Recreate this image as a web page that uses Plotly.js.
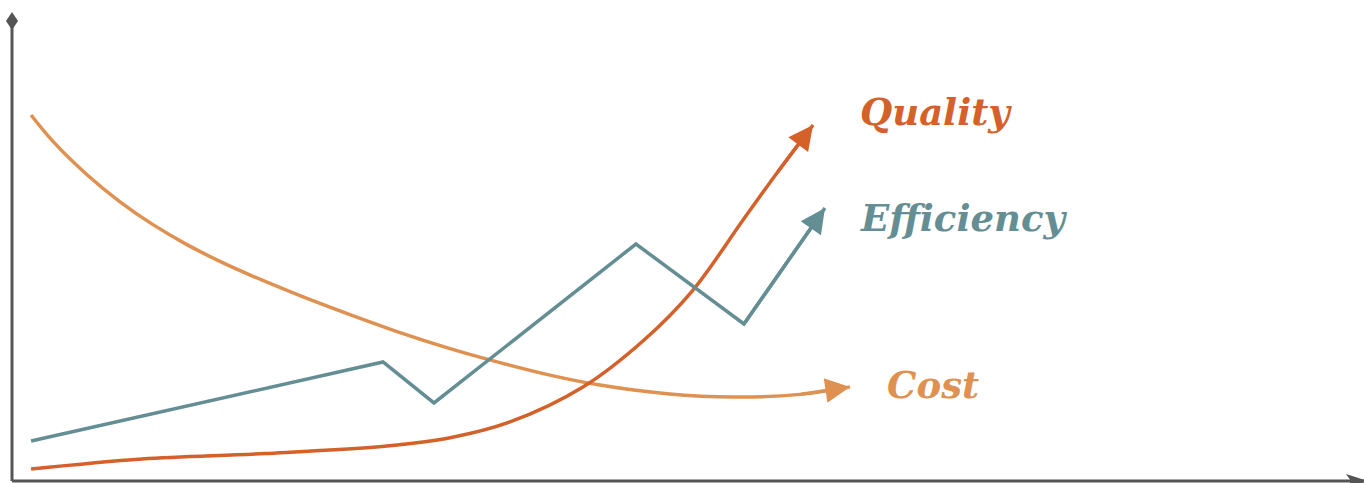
<!DOCTYPE html>
<html>
<head>
<meta charset="utf-8">
<script src="https://cdn.plot.ly/plotly-3.0.1.min.js"></script>
<style>
  html, body { margin: 0; padding: 0; background: #fff; }
  #chart { width: 1364px; height: 483px; }
</style>
</head>
<body>
<div id="chart"></div>
<script>
"use strict";

// Trend lines (x: time 0-100, y: level 0-100).
// The last point of each series is where its arrow points.
var costX = [1.41, 3.03, 5.55, 7.99, 10.43, 12.94, 15.38, 17.83, 21.30, 25.00, 28.70, 32.40, 36.09, 39.79, 43.49, 48.45, 53.33, 58.28, 61.98];
var costY = [79.57, 73.83, 66.59, 60.70, 55.74, 51.39, 47.74, 44.50, 40.30, 36.17, 32.26, 28.78, 25.74, 23.02, 20.85, 18.96, 18.24, 18.83, 20.46];

var qualityX = [1.41, 9.62, 18.71, 27.74, 32.32, 36.83, 42.23, 46.75, 50.37, 54.07, 56.58, 59.25];
var qualityY = [2.61, 4.80, 5.98, 7.61, 9.35, 12.83, 20.43, 30.65, 41.52, 56.74, 66.96, 77.39];

var efficiencyX = [1.41, 27.44, 31.21, 46.15, 54.14, 60.13];
var efficiencyY = [8.70, 25.87, 16.96, 51.52, 34.13, 59.35];

var seriesColors = {Quality: '#d4602a', Efficiency: '#648e93', Cost: '#df9152'};
var AXIS_COLOR = '#555555';

var series = [
  {name: 'Cost', x: costX, y: costY, shape: 'spline', label: {xshift: 35, yshift: 2}},
  {name: 'Quality', x: qualityX, y: qualityY, shape: 'spline', label: {xshift: 45, yshift: 13}},
  {name: 'Efficiency', x: efficiencyX, y: efficiencyY, shape: 'linear', label: {xshift: 33, yshift: -10}},
];

var data = [];
var annotations = [];
series.forEach(function(s) {
  var n = s.x.length;
  var color = seriesColors[s.name];
  data.push({
    x: s.x,
    y: s.y,
    mode: 'lines',
    name: s.name,
    // stop the line a little short so it hides under the arrow head
    line: {color: color, width: 3.5, shape: s.shape, smoothing: 1, backoff: 10},
    hoverinfo: 'skip',
  });
  // the arrow head at the end of the line
  annotations.push({
    x: s.x[n - 1], y: s.y[n - 1],
    ax: s.x[n - 2], ay: s.y[n - 2],
    xref: 'x', yref: 'y', axref: 'x', ayref: 'y',
    text: '',
    showarrow: true,
    arrowhead: 2,
    arrowsize: 1.45,
    arrowwidth: 3.4,
    arrowcolor: color,
    standoff: 0,
    startstandoff: 0,
  });
  annotations.push({
    x: s.x[n - 1], y: s.y[n - 1],
    xref: 'x', yref: 'y',
    text: s.name,
    showarrow: false,
    xanchor: 'left',
    yanchor: 'middle',
    xshift: s.label.xshift,
    yshift: s.label.yshift,
    font: {family: 'DejaVu Serif', size: 37, color: color, style: 'italic', weight: 'bold'},
  });
});

var hiddenAxis = {
  range: [0, 100],
  showgrid: false,
  zeroline: false,
  showticklabels: false,
  ticks: '',
  showline: false,
  fixedrange: true,
};

var layout = {
  width: 1364,
  height: 483,
  margin: {l: 12, r: 0, t: 21, b: 2},
  paper_bgcolor: '#ffffff',
  plot_bgcolor: '#ffffff',
  showlegend: false,
  xaxis: hiddenAxis,
  yaxis: hiddenAxis,
  annotations: annotations,
  shapes: [
    // the two axis lines
    {type: 'line', xref: 'paper', yref: 'paper', x0: 0, x1: 0, y0: 0, y1: 1,
     line: {color: AXIS_COLOR, width: 3}},
    {type: 'line', xref: 'paper', yref: 'paper', x0: 0, x1: 1, y0: 0, y1: 0,
     line: {color: AXIS_COLOR, width: 3}},
    // diamond cap on the vertical axis
    {
      type: 'path', xref: 'paper', yref: 'paper',
      xsizemode: 'pixel', ysizemode: 'pixel', xanchor: 0, yanchor: 1,
      path: 'M0,9 L6,0 L0,-9 L-6,0 Z',
      fillcolor: AXIS_COLOR, line: {width: 0},
    },
    // arrow tip on the horizontal axis
    {
      type: 'path', xref: 'paper', yref: 'paper',
      xsizemode: 'pixel', ysizemode: 'pixel', xanchor: 1, yanchor: 0,
      path: 'M-18,7 L4,0 L-18,-7 L-13,0 Z',
      fillcolor: AXIS_COLOR, line: {width: 0},
    },
  ],
};

Plotly.newPlot('chart', data, layout, {displayModeBar: false, staticPlot: true});
</script>
</body>
</html>
